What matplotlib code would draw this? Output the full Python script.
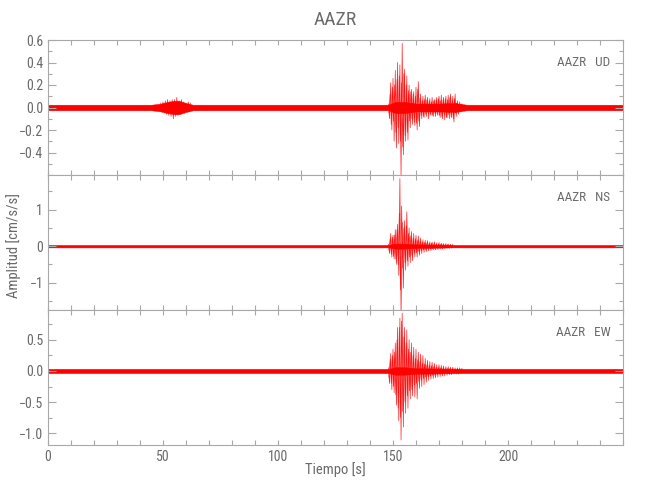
import numpy as np
import matplotlib.pyplot as plt
from matplotlib.ticker import MultipleLocator, FixedLocator

# Station / components
station = "AAZR"
components = ["UD", "NS", "EW"]

# Background noise band (knot times and half-width)
t_ud_env = [0, 45, 49, 52, 55, 57, 60, 63, 148, 151, 155, 160, 170, 177, 182, 250]
ud_env_hi = [0.025, 0.025, 0.035, 0.05, 0.06, 0.06, 0.04, 0.025, 0.025, 0.05, 0.05, 0.035, 0.035, 0.04, 0.025, 0.025]
ud_env_lo = [-0.025, -0.025, -0.035, -0.05, -0.06, -0.06, -0.04, -0.025, -0.025, -0.05, -0.05, -0.035, -0.035, -0.04, -0.025, -0.025]

t_ns_env = [0, 148, 151, 155, 160, 175, 250]
ns_env_hi = [0.035, 0.035, 0.07, 0.07, 0.05, 0.035, 0.035]
ns_env_lo = [-0.035, -0.035, -0.07, -0.07, -0.05, -0.035, -0.035]

t_ew_env = [0, 148, 151, 155, 160, 176, 250]
ew_env_hi = [0.035, 0.035, 0.06, 0.06, 0.045, 0.035, 0.035]
ew_env_lo = [-0.035, -0.035, -0.06, -0.06, -0.045, -0.035, -0.035]

# Small UD event around 50-60 s (peaks every 0.5 s)
t_ud_ev = np.arange(49.0, 62.5, 0.5)
ud_ev = [0.04, -0.04, 0.05, -0.05, 0.06, -0.06, 0.07, -0.07, 0.06, -0.08, 0.07, -0.10, 0.07,
         -0.08, 0.09, -0.07, 0.06, -0.06, 0.07, -0.05, 0.05, -0.05, 0.04, -0.04, 0.05, -0.04, 0.04]

# Main arrival: outer peaks every 0.5 s
t_pk = np.arange(148.0, 180.5, 0.5)
ud_pk = [0.03, -0.10, 0.22, -0.20, 0.26, -0.30, 0.33, -0.36, 0.40, -0.32, 0.38, -0.62, 0.57,
         -0.42, 0.34, -0.30, 0.28, -0.29, 0.20, -0.18, 0.16, -0.15, 0.14, -0.16, 0.18, -0.20,
         0.23, -0.17, 0.12, -0.10, 0.10, -0.09, 0.11, -0.08, 0.09, -0.10, 0.08, -0.07, 0.09,
         -0.08, 0.07, -0.08, 0.09, -0.07, 0.10, -0.09, 0.11, -0.10, 0.09, -0.11, 0.10, -0.09,
         0.11, -0.10, 0.12, -0.09, 0.10, -0.13, 0.12, -0.08, 0.06, -0.06, 0.05, -0.04, 0.03]

t_ns_pk = np.arange(148.0, 176.5, 0.5)
ns_pk = [0.05, -0.20, 0.35, -0.30, 0.30, -0.35, 0.45, -0.50, 0.60, -0.80, 1.85, -2.00, 0.65,
         -1.15, 0.70, -0.66, 0.94, -0.55, 0.50, -0.45, 0.40, -0.40, 0.35, -0.30, 0.30, -0.30,
         0.28, -0.25, 0.22, -0.20, 0.18, -0.17, 0.16, -0.15, 0.15, -0.13, 0.12, -0.12, 0.11,
         -0.10, 0.12, -0.10, 0.09, -0.09, 0.10, -0.08, 0.08, -0.08, 0.07, -0.07, 0.07, -0.06,
         0.06, -0.06, 0.05, -0.05, 0.05]

ew_pk = [0.05, -0.20, 0.28, -0.30, 0.35, -0.35, 0.45, -0.55, 0.70, -0.80, 0.85, -1.11, 0.93,
         -0.90, 0.70, -0.68, 0.66, -0.60, 0.50, -0.45, 0.45, -0.40, 0.38, -0.42, 0.35, -0.45,
         0.30, -0.28, 0.27, -0.25, 0.25, -0.22, 0.20, -0.18, 0.17, -0.15, 0.15, -0.13, 0.14,
         -0.12, 0.12, -0.11, 0.10, -0.10, 0.10, -0.09, 0.09, -0.08, 0.08, -0.08, 0.07, -0.07,
         0.07, -0.06, 0.06, -0.06, 0.06, -0.05, 0.05, -0.05, 0.05, -0.05, 0.05, -0.04, 0.04]

# Main arrival: inner oscillations, offset by 0.25 s
t_in = np.arange(148.25, 180.0, 0.5)
ud_in = [-0.05, 0.12, -0.15, 0.18, -0.12, 0.20, -0.22, 0.25, -0.18, 0.28,
         -0.30, 0.22, -0.35, 0.30, -0.25, 0.20, -0.22, 0.15, -0.12, 0.14,
         -0.10, 0.12, -0.13, 0.10, -0.14, 0.16, -0.12, 0.08, -0.07, 0.06,
         -0.08, 0.07, -0.06, 0.07, -0.05, 0.06, -0.06, 0.05, -0.07, 0.06,
         -0.05, 0.07, -0.06, 0.08, -0.07, 0.06, -0.08, 0.07, -0.06, 0.08,
         -0.09, 0.07, -0.06, 0.09, -0.08, 0.07, -0.10, 0.08, -0.05, 0.04,
         -0.04, 0.03, -0.03, 0.03]

t_ns_in = np.arange(148.25, 176.0, 0.5)
ns_in = [-0.10, 0.20, -0.22, 0.25, -0.28, 0.30, -0.35, 0.45, -0.50, 0.90,
         -1.20, 1.10, -0.60, 0.50, -0.45, 0.55, -0.40, 0.35, -0.30, 0.28,
         -0.25, 0.22, -0.20, 0.20, -0.18, 0.16, -0.15, 0.14, -0.12, 0.11,
         -0.10, 0.10, -0.09, 0.09, -0.08, 0.08, -0.07, 0.08, -0.07, 0.06,
         -0.06, 0.06, -0.05, 0.06, -0.05, 0.05, -0.05, 0.05, -0.04, 0.04,
         -0.04, 0.04, -0.04, 0.03, -0.03, 0.03]

ew_in = [-0.10, 0.18, -0.20, 0.25, -0.25, 0.30, -0.38, 0.50, -0.60, 0.70,
         -0.75, 0.80, -0.65, 0.55, -0.50, 0.45, -0.40, 0.35, -0.32, 0.30,
         -0.30, 0.25, -0.22, 0.20, -0.20, 0.18, -0.17, 0.15, -0.14, 0.12,
         -0.12, 0.11, -0.10, 0.10, -0.09, 0.09, -0.08, 0.08, -0.07, 0.07,
         -0.07, 0.06, -0.06, 0.06, -0.05, 0.05, -0.05, 0.05, -0.04, 0.04,
         -0.04, 0.04, -0.04, 0.04, -0.04, 0.04, -0.03, 0.03, -0.03, 0.03,
         -0.03, 0.03, -0.03, 0.03]

# Axis limits and ticks per panel
ylims = [(-0.6, 0.6), (-1.75, 1.95), (-1.19, 0.98)]
yticks = [[-0.4, -0.2, 0.0, 0.2, 0.4, 0.6], [-1, 0, 1], [-1.0, -0.5, 0.0, 0.5]]
yfmt = ["{:.1f}", "{:.0f}", "{:.1f}"]
yminor = [0.1, 0.5, 0.25]
xticks = [0, 50, 100, 150, 200]

gray = "#a8a8a8"
tcol = "#6a6a6a"
plt.rcParams['font.family'] = ['Roboto Condensed', 'Liberation Sans Narrow', 'DejaVu Sans']

fig = plt.figure(figsize=(6.5, 5), dpi=100)
left, right = 48 / 650, 623 / 650
top, bottom = 1 - 40 / 500, 1 - 445 / 500
h = (top - bottom) / 3

envs = [(t_ud_env, ud_env_lo, ud_env_hi), (t_ns_env, ns_env_lo, ns_env_hi), (t_ew_env, ew_env_lo, ew_env_hi)]
outer = [(t_pk, ud_pk), (t_ns_pk, ns_pk), (t_pk, ew_pk)]
inner = [(t_in, ud_in), (t_ns_in, ns_in), (t_in, ew_in)]

for i, comp in enumerate(components):
    ax = fig.add_axes([left, top - (i + 1) * h, right - left, h])
    te, lo, hi = envs[i]
    ax.fill_between(te, lo, hi, color='red', lw=0.3, edgecolor='red')
    ax.plot(*inner[i], color='red', lw=0.5, alpha=0.85, clip_on=False)
    ax.plot(*outer[i], color='red', lw=0.5, alpha=0.85, clip_on=False)
    if i == 0:
        ax.plot(t_ud_ev, ud_ev, color='red', lw=0.5, alpha=0.85)

    ax.set_xlim(0, 250)
    ax.set_ylim(*ylims[i])
    ax.xaxis.set_major_locator(FixedLocator(xticks))
    ax.xaxis.set_minor_locator(MultipleLocator(10))
    ax.yaxis.set_major_locator(FixedLocator(yticks[i]))
    ax.yaxis.set_minor_locator(MultipleLocator(yminor[i]))
    ax.set_yticklabels([yfmt[i].format(v).replace('-', '\u2212') for v in yticks[i]])
    ax.tick_params(axis='both', which='both', direction='in', top=True, right=True,
                   color=gray, labelcolor=tcol, labelsize=10, width=0.8)
    ax.tick_params(axis='y', which='major', length=6)
    ax.tick_params(axis='y', which='minor', length=3)
    ax.tick_params(axis='x', which='both', length=3.5)
    for s in ax.spines.values():
        s.set_color(gray)
        s.set_linewidth(0.8)
    if i < 2:
        ax.tick_params(axis='x', labelbottom=False)
    ax.text(0.978, 0.83, f"{station}   {comp}", transform=ax.transAxes,
            ha='right', va='center', color=tcol, fontsize=9.5)

fig.text((left + right) / 2, 1 - 20 / 500, station, ha='center', va='center', color=tcol, fontsize=14)
fig.text((left + right) / 2, 1 - 470 / 500, "Tiempo [s]", ha='center', va='center', color=tcol, fontsize=10.5)
fig.text(14 / 650, 1 - 245 / 500, "Amplitud [cm/s/s]", ha='center', va='center',
         rotation=90, color=tcol, fontsize=10.5)

fig.savefig("out.png", dpi=100)
